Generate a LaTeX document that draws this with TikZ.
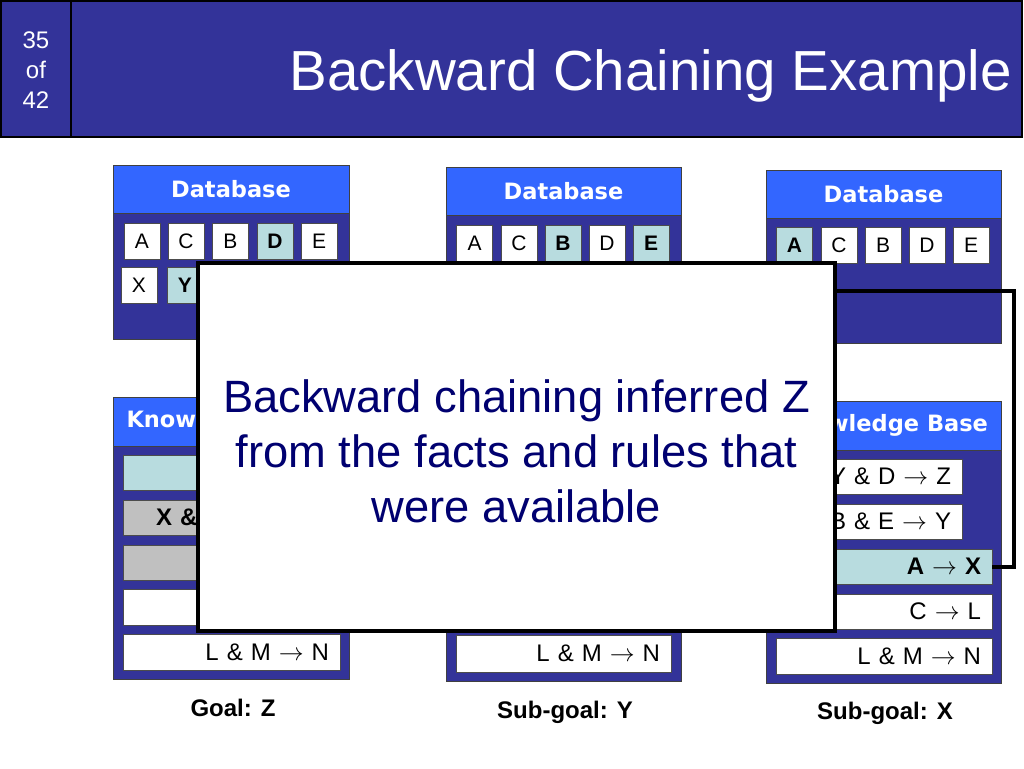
\documentclass[tikz,border=0pt]{standalone}
\usepackage{fontspec}
\setmainfont{Liberation Sans}
\newfontfamily\hdrf{DejaVu Sans}
\definecolor{dkblue}{HTML}{333399}
\definecolor{brblue}{HTML}{3366FF}
\definecolor{hilite}{HTML}{B8DCDF}
\definecolor{grayrow}{HTML}{C0C0C0}
\definecolor{navytext}{HTML}{000070}
\newcommand\mkbox[7]{%
  \pgfmathsetmacro\mkW{#5-#3}\pgfmathsetmacro\mkH{#6-#4}%
  \pgfmathsetmacro\mkX{(#3+#5)/2}\pgfmathsetmacro\mkY{(#4+#6)/2}%
  \node[inner sep=0pt,#1,minimum width=\mkW pt,minimum height=\mkH pt] (#2) at (\mkX,\mkY) {#7};}
\newcommand\mkrow[7]{%
  \pgfmathsetmacro\mkW{#5-#3}\pgfmathsetmacro\mkH{#6-#4}\pgfmathsetmacro\mkT{#5-#3-22}%
  \pgfmathsetmacro\mkX{(#3+#5)/2}\pgfmathsetmacro\mkY{(#4+#6)/2}%
  \node[kbrow,#1,minimum width=\mkW pt,minimum height=\mkH pt,text width=\mkT pt,inner xsep=11pt,inner ysep=0pt] (#2) at (\mkX,\mkY) {#7};}
\begin{document}
\begin{tikzpicture}[x=1pt,y=-1pt,
  hdrbox/.style={draw=black,line width=2pt,fill=dkblue},
  panel/.style={draw=black!75,line width=0.7pt,fill=dkblue},
  phead/.style={draw=black!75,line width=0.7pt,fill=brblue,text=white,font=\hdrf\bfseries\fontsize{22.5}{27}\selectfont},
  cell/.style={draw=black!70,line width=0.6pt,fill=white,minimum size=36pt,inner sep=0pt,font=\fontsize{21}{25}\selectfont},
  hcell/.style={cell,fill=hilite,font=\bfseries\fontsize{21}{25}\selectfont},
  kbrow/.style={draw=black!70,line width=0.6pt,fill=white,align=right,font=\fontsize{24}{28}\selectfont},
  plainrow/.style={},
  hlrow/.style={fill=hilite,font=\bfseries\fontsize{24}{28}\selectfont},
  gryrow/.style={fill=grayrow,font=\bfseries\fontsize{24}{28}\selectfont},
  lbl/.style={font=\bfseries\fontsize{24}{28}\selectfont,inner sep=0pt},
  big/.style={text=navytext,font=\fontsize{45.3}{55}\selectfont,inner sep=0pt,anchor=base},
  overlay box/.style={draw=black,line width=4pt,fill=white},
  conn/.style={draw=black,line width=4pt}
]
\useasboundingbox (0,0) rectangle (1024,768);
\fill[white] (0,0) rectangle (1024,768);

% header
\mkbox{hdrbox}{pagebox}{1}{1}{71}{137}{}
\mkbox{hdrbox}{titlebox}{71}{1}{1022}{137}{}
\node[text=white,align=center,inner sep=0pt,font=\fontsize{24}{30}\selectfont] (pagenum) at (36,70) {35\\of\\42};
\node[text=white,inner sep=0pt,anchor=base east,font=\fontsize{56.5}{60}\selectfont] (title) at (1012,90) {Backward Chaining Example};

% left database
\mkbox{panel}{ldb}{113}{165}{349}{339}{}
\mkbox{phead}{ldbh}{113}{165}{349}{213}{Database}
\node[cell] (lA) at (142,241) {A};
\node[cell] (lC) at (186,241) {C};
\node[cell] (lB) at (230.5,241) {B};
\node[hcell] (lD) at (275,241) {D};
\node[cell] (lE) at (319,241) {E};
\node[cell] (lX) at (139,285) {X};
\node[hcell] (lY) at (185,285) {Y};

% middle database
\mkbox{panel}{mdb}{446}{167}{681}{341}{}
\mkbox{phead}{mdbh}{446}{167}{681}{215}{Database}
\node[cell] (mA) at (474.5,243) {A};
\node[cell] (mC) at (519,243) {C};
\node[hcell] (mB) at (563,243) {B};
\node[cell] (mD) at (607,243) {D};
\node[hcell] (mE) at (651,243) {E};

% right database
\mkbox{panel}{rdb}{766}{170}{1001}{343}{}
\mkbox{phead}{rdbh}{766}{170}{1001}{218}{Database}
\node[hcell] (rA) at (794.5,245.5) {A};
\node[cell] (rC) at (839,245.5) {C};
\node[cell] (rB) at (883,245.5) {B};
\node[cell] (rD) at (927,245.5) {D};
\node[cell] (rE) at (971,245.5) {E};

% left knowledge base
\mkbox{panel}{lkb}{113}{397}{349}{679}{}
\mkbox{phead}{lkbh}{113}{397}{349}{446}{Knowledge Base}
\mkrow{hlrow}{kl1}{123}{455}{340}{490}{}
\mkrow{gryrow}{kl2}{123}{500}{340}{535}{X \& B \& E $\rightarrow$ Y}
\mkrow{gryrow}{kl3}{123}{545}{340}{580}{}
\mkrow{plainrow}{kl4}{123}{589}{340}{625}{}
\mkrow{plainrow}{kl5}{123}{634}{340}{670}{L \& M $\rightarrow$ N}

% middle knowledge base (header hidden under the message box)
\mkbox{panel}{mkb}{446}{400}{681}{681}{}
\mkbox{phead}{mkbh}{446}{400}{681}{449}{}
\mkrow{plainrow}{km5}{456}{635}{671}{672}{L \& M $\rightarrow$ N}

% right knowledge base
\mkbox{panel}{rkb}{766}{401}{1001}{683}{}
\mkbox{phead}{rkbh}{766}{401}{1001}{450}{Knowledge Base}
\mkrow{plainrow}{kr1}{776}{459}{962}{494}{Y \& D $\rightarrow$ Z}
\mkrow{plainrow}{kr2}{776}{504}{962}{539}{B \& E $\rightarrow$ Y}
\mkrow{hlrow}{kr3}{776}{549}{992}{584}{A $\rightarrow$ X}
\mkrow{plainrow}{kr4}{776}{594}{992}{629}{C $\rightarrow$ L}
\mkrow{plainrow}{kr5}{776}{638}{992}{674}{L \& M $\rightarrow$ N}

% labels
\node[lbl] (goal) at (233,708) {Goal: Z};
\node[lbl] (subY) at (565,712) {Sub-goal: Y};
\node[lbl] (subX) at (885,713) {Sub-goal: X};

% overlay message box
\mkbox{overlay box}{bigbox}{198}{263}{835}{631}{}
\node[big] (t1) at (516.5,412) {Backward chaining inferred Z};
\node[big] (t2) at (516.5,467) {from the facts and rules that};
\node[big] (t3) at (516.5,522) {were available};

% connector
\coordinate (cs) at (835,291);
\coordinate (ct) at (1014,291);
\draw[conn] (cs) -- (ct) |- (kr3.east);
\end{tikzpicture}
\end{document}
